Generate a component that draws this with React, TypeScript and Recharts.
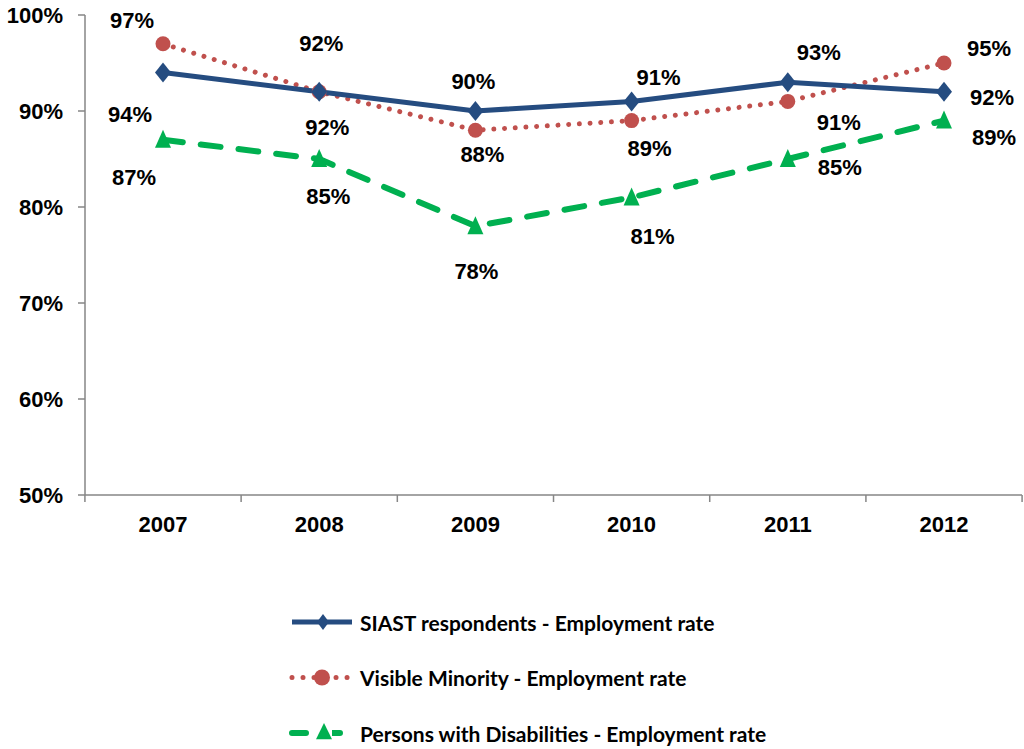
import React from "react";
import { LineChart, Line, XAxis, YAxis, Legend, LabelList } from "recharts";

const years = ["2007", "2008", "2009", "2010", "2011", "2012"];
const siast = [94, 92, 90, 91, 93, 92];
const visibleMinority = [97, 92, 88, 89, 91, 95];
const disabilities = [87, 85, 78, 81, 85, 89];
const yTicks = [50, 60, 70, 80, 90, 100];

const data = years.map((year, i) => ({
  year,
  siast: siast[i],
  minority: visibleMinority[i],
  disabled: disabilities[i],
}));

// label offsets (dx, dy) from each point, as placed in the original
const siastLabelPos = [[-33, 42], [8, 36], [-2, -30], [27, -24], [31, -30], [48, 6]];
const minorityLabelPos = [[-31, -23], [2, -48], [7, 24], [18, 28], [51, 21], [45, -15]];
const disabledLabelPos = [[-29, 38], [9, 37], [1, 45], [21, 39], [52, 8], [50, 17]];

const BLUE = "#254C80";
const RED = "#C0504D";
const GREEN = "#00B050";
const AXIS = "#868686";
const FONT = "'Liberation Sans', Arial, sans-serif";

const makeLabel = (pos: number[][]) => (props: any) => {
  const { x, y, value, index } = props;
  const [dx, dy] = pos[index] || [0, 0];
  return (
    <text
      x={x + dx}
      y={y + dy}
      textAnchor="middle"
      dominantBaseline="central"
      fontFamily={FONT}
      fontWeight="bold"
      fontSize={22}
      fill="#000"
    >
      {value}%
    </text>
  );
};

const Diamond = ({ cx, cy, w = 8, h = 10 }: any) => (
  <path d={`M${cx},${cy - h} L${cx + w},${cy} L${cx},${cy + h} L${cx - w},${cy} Z`} fill={BLUE} />
);

const Circle = ({ cx, cy, r = 7.5 }: any) => <circle cx={cx} cy={cy} r={r} fill={RED} />;

const Triangle = ({ cx, cy, w = 8, h = 10 }: any) => (
  <path d={`M${cx},${cy - h} L${cx + w},${cy + h * 0.8} L${cx - w},${cy + h * 0.8} Z`} fill={GREEN} />
);

const XTick = (props: any) => {
  const { x, y, payload, index } = props;
  const half = 937 / years.length / 2;
  return (
    <g>
      <line x1={x - half} y1={y} x2={x - half} y2={y + 7} stroke={AXIS} strokeWidth={1.5} />
      {index === years.length - 1 && (
        <line x1={x + half} y1={y} x2={x + half} y2={y + 7} stroke={AXIS} strokeWidth={1.5} />
      )}
      <text x={x} y={y + 37} textAnchor="middle" fontFamily={FONT} fontWeight="bold" fontSize={22} fill="#000">
        {payload.value}
      </text>
    </g>
  );
};

const legendRows = [
  { key: "siast", color: BLUE, dash: undefined, cap: "butt", width: 5 },
  { key: "minority", color: RED, dash: "0.01 11", cap: "round", width: 5 },
  { key: "disabled", color: GREEN, dash: "14 20", cap: "round", width: 6 },
];

const renderLegend = (props: any) => {
  const { payload } = props;
  return (
    <svg width={560} height={150} style={{ display: "block" }}>
      {legendRows.map((row, i) => {
        const item = payload.find((p: any) => p.dataKey === row.key);
        const cy = 17 + i * 55.5;
        return (
          <g key={row.key}>
            <line
              x1={8}
              y1={cy}
              x2={68}
              y2={cy}
              stroke={row.color}
              strokeWidth={row.width}
              strokeDasharray={row.dash}
              strokeLinecap={row.cap as any}
            />
            {row.key === "siast" && <Diamond cx={39} cy={cy} w={6} h={8} />}
            {row.key === "minority" && <Circle cx={38} cy={cy} r={8} />}
            {row.key === "disabled" && (
              <g>
                <rect x={30} y={cy - 4} width={18} height={8} fill="#fff" />
                <Triangle cx={40} cy={cy - 1} w={8} h={9} />
              </g>
            )}
            <text
              x={76}
              y={cy}
              dominantBaseline="central"
              fontFamily="Lato, 'Open Sans', sans-serif"
              fontWeight="bold"
              fontSize={21}
              fill="#000"
            >
              {item ? item.value : ""}
            </text>
          </g>
        );
      })}
    </svg>
  );
};

export default function App() {
  return (
    <div style={{ position: "absolute", left: 0, top: 0, background: "#fff" }}>
      <LineChart
        width={1024}
        height={749}
        data={data}
        margin={{ top: 15, right: 2, bottom: 194, left: 0 }}
      >
        <XAxis
          dataKey="year"
          padding={{ left: 78, right: 78 }}
          height={60}
          tickLine={false}
          tickSize={0}
          tickMargin={0}
          axisLine={{ stroke: AXIS, strokeWidth: 1.5 }}
          tick={<XTick />}
          interval={0}
        />
        <YAxis
          domain={[50, 100]}
          ticks={yTicks}
          width={85}
          tickSize={7}
          tickMargin={15}
          tickFormatter={(v) => `${v}%`}
          axisLine={{ stroke: AXIS, strokeWidth: 1.5 }}
          tickLine={{ stroke: AXIS, strokeWidth: 1.5 }}
          tick={{ fontFamily: FONT, fontWeight: "bold", fontSize: 22, fill: "#000" }}
        />
        <Legend
          layout="horizontal"
          verticalAlign="middle"
          align="center"
          content={renderLegend}
          wrapperStyle={{ position: "absolute", top: 605, left: 284, width: 560, height: 150 }}
        />
        <Line
          dataKey="disabled"
          name="Persons with Disabilities - Employment rate"
          stroke={GREEN}
          strokeWidth={6}
          strokeDasharray="20 18"
          strokeLinecap="round"
          dot={(p: any) => <Triangle key={`t${p.index}`} cx={p.cx} cy={p.cy} />}
          activeDot={false}
          isAnimationActive={false}
        >
          <LabelList dataKey="disabled" content={makeLabel(disabledLabelPos)} />
        </Line>
        <Line
          dataKey="minority"
          name="Visible Minority - Employment rate"
          stroke={RED}
          strokeWidth={5}
          strokeDasharray="0.01 10.7"
          strokeLinecap="round"
          dot={(p: any) => <Circle key={`c${p.index}`} cx={p.cx} cy={p.cy} />}
          activeDot={false}
          isAnimationActive={false}
        >
          <LabelList dataKey="minority" content={makeLabel(minorityLabelPos)} />
        </Line>
        <Line
          dataKey="siast"
          name="SIAST respondents - Employment rate"
          stroke={BLUE}
          strokeWidth={5}
          dot={(p: any) => <Diamond key={`d${p.index}`} cx={p.cx} cy={p.cy} />}
          activeDot={false}
          isAnimationActive={false}
        >
          <LabelList dataKey="siast" content={makeLabel(siastLabelPos)} />
        </Line>
      </LineChart>
    </div>
  );
}
